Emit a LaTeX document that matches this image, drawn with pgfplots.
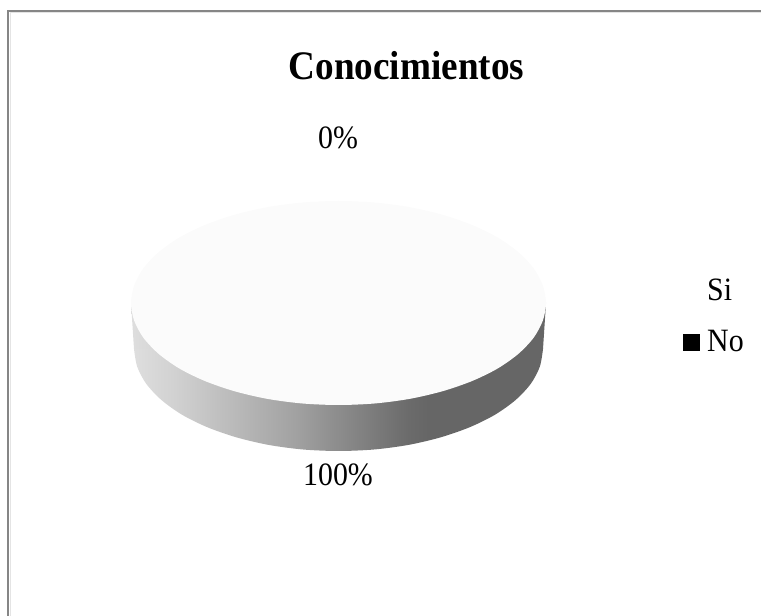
\documentclass[border=0pt]{standalone}
\usepackage{pgfplots}
\pgfplotsset{compat=1.18}
\usepackage{fontspec}
\setmainfont{Liberation Serif}
\definecolor{framegray}{HTML}{868686}
\definecolor{frameedge}{HTML}{E4E4E4}
\definecolor{topface}{HTML}{FBFBFB}
% Side wall of the disc: light on the left, dark from about 70 percent across.
% The path's extent maps onto the central 25bp--75bp of the shading.
\pgfdeclarehorizontalshading{wallshade}{100bp}{
  color(0bp)=(black!13);
  color(25bp)=(black!13);
  color(30bp)=(black!18);
  color(45bp)=(black!37);
  color(50bp)=(black!45);
  color(58.5bp)=(black!58);
  color(61bp)=(black!60);
  color(100bp)=(black!60)
}
% Text in this chart is slightly taller than the font's natural proportions
\tikzset{chart text/.style={inner sep=0pt, yscale=1.09, transform shape}}
\begin{document}
\begin{tikzpicture}
\useasboundingbox (0,0) rectangle (761bp,616bp);
\begin{axis}[
  scale only axis,
  width=761bp, height=616bp,
  xmin=0, xmax=761, ymin=0, ymax=616,
  hide axis,
  clip=true,
]
% Chart frame, open towards the right and bottom edges, with its light inner edge
\addplot[frameedge, line width=1bp] coordinates {(10,-5) (10,603.4) (766,603.4)};
\addplot[framegray, line width=2.5bp] coordinates {(8,-5) (8,605) (766,605)};

% Wall of the disc: straight part, then the lower half of the base ellipse
\addplot[draw=none, shading=wallshade] coordinates {(131,313) (546,313) (543,267) (134,267)} -- cycle;
\addplot[draw=none, shading=wallshade, smooth] coordinates {
  (543,267) (539.8,249.3) (530.7,232.1) (515.6,216) (495.2,201.4) (470,188.9)
  (440.8,178.7) (408.5,171.1) (374,166.5) (338.5,165) (303,166.5) (268.5,171.1)
  (236.2,178.7) (207,188.9) (181.8,201.4) (161.4,216) (146.3,232.1) (137.2,249.3) (134,267)
};

% Top face: the 100% slice fills the whole ellipse
\addplot[draw=none, fill=topface, smooth cycle] coordinates {
  (546,313) (542.8,330.7) (533.5,347.9) (518.2,364) (497.5,378.6) (471.9,391.1)
  (442.3,401.3) (409.5,408.9) (374.5,413.5) (338.5,415) (302.5,413.5) (267.5,408.9)
  (234.7,401.3) (205.1,391.1) (179.5,378.6) (158.8,364) (143.5,347.9) (134.2,330.7)
  (131,313) (134.2,295.3) (143.5,278.1) (158.8,262) (179.5,247.4) (205.1,234.9)
  (234.7,224.7) (267.5,217.1) (302.5,212.5) (338.5,211) (374.5,212.5) (409.5,217.1)
  (442.3,224.7) (471.9,234.9) (497.5,247.4) (518.2,262) (533.5,278.1) (542.8,295.3)
};

% Legend swatches
\addplot[only marks, mark=square*, mark size=8bp, draw=white, fill=white] coordinates {(691,324)};
\addplot[only marks, mark=square*, mark size=8bp, draw=black, fill=black] coordinates {(691,274)};

% Title, slice labels and legend entries
\node[chart text, anchor=base, font=\fontsize{37.3}{37}\selectfont\bfseries] at (axis cs:406.5,536) {Conocimientos};
\node[chart text, anchor=base, font=\fontsize{30}{30}\selectfont] at (axis cs:338,467) {0\%};
\node[chart text, anchor=base, font=\fontsize{30}{30}\selectfont] at (axis cs:338,130) {100\%};
\node[chart text, anchor=base west, font=\fontsize{30}{30}\selectfont] at (axis cs:707,315) {Si};
\node[chart text, anchor=base west, font=\fontsize{30}{30}\selectfont] at (axis cs:707,264) {No};
\end{axis}
\end{tikzpicture}
\end{document}
